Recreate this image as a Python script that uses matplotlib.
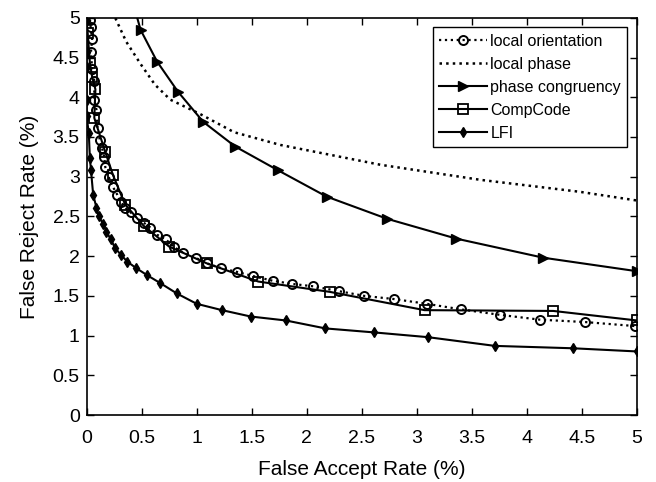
import matplotlib.pyplot as plt

plt.rcParams['font.family'] = ['Liberation Sans', 'DejaVu Sans']

# local orientation (dotted, circles)
lo_far = [0.03, 0.036, 0.05, 0.04, 0.05, 0.07, 0.07, 0.09, 0.10, 0.12, 0.14, 0.16, 0.17, 0.20,
          0.24, 0.28, 0.31, 0.35, 0.40, 0.46, 0.52, 0.58, 0.64, 0.72, 0.79, 0.88, 0.99,
          1.09, 1.22, 1.37, 1.51, 1.69, 1.87, 2.06, 2.29, 2.52, 2.79, 3.09, 3.40, 3.76,
          4.12, 4.53, 4.98]
lo_frr = [4.97, 4.89, 4.73, 4.57, 4.36, 4.21, 3.97, 3.84, 3.61, 3.46, 3.36, 3.25, 3.12, 3.00,
          2.87, 2.77, 2.68, 2.61, 2.55, 2.48, 2.42, 2.36, 2.27, 2.21, 2.12, 2.04, 1.98,
          1.91, 1.85, 1.80, 1.75, 1.69, 1.65, 1.62, 1.56, 1.50, 1.46, 1.40, 1.33, 1.26,
          1.20, 1.17, 1.12]

# local phase (dotted, no markers)
lp_far = [0.20, 0.26, 0.36, 0.49, 0.62, 0.76, 1.03, 1.34, 1.76, 2.67, 3.58, 4.48, 5.0]
lp_frr = [5.3, 5.0, 4.7, 4.42, 4.16, 3.97, 3.79, 3.56, 3.40, 3.15, 2.96, 2.81, 2.70]

# phase congruency (solid, right triangles)
pc_far = [0.40, 0.49, 0.64, 0.83, 1.06, 1.35, 1.74, 2.18, 2.73, 3.36, 4.15, 5.0]
pc_frr = [5.3, 4.85, 4.45, 4.07, 3.69, 3.38, 3.08, 2.75, 2.47, 2.22, 1.98, 1.81]

# CompCode (solid, squares)
cc_far = [0.01, 0.03, 0.05, 0.08, 0.07, 0.17, 0.24, 0.35, 0.52, 0.75, 1.09, 1.56,
          2.21, 3.07, 4.24, 5.0]
cc_frr = [4.81, 4.43, 4.26, 4.10, 3.74, 3.31, 3.02, 2.65, 2.38, 2.12, 1.91, 1.68,
          1.55, 1.32, 1.31, 1.19]

# LFI (solid, small diamonds)
lfi_far = [0.0, 0.0, 0.0, 0.0, 0.0, 0.02, 0.03, 0.04, 0.06, 0.09, 0.11, 0.15, 0.18,
           0.22, 0.26, 0.31, 0.37, 0.45, 0.55, 0.67, 0.82, 1.00, 1.23, 1.49, 1.81,
           2.17, 2.61, 3.10, 3.71, 4.42, 5.0]
lfi_frr = [4.97, 4.57, 4.38, 3.97, 3.76, 3.55, 3.23, 3.08, 2.77, 2.61, 2.50, 2.41, 2.31,
           2.21, 2.10, 2.02, 1.93, 1.85, 1.76, 1.66, 1.53, 1.40, 1.32, 1.24, 1.19,
           1.09, 1.04, 0.98, 0.87, 0.84, 0.80]

fig = plt.figure(figsize=(6.56, 4.82), dpi=100)
ax = fig.add_axes([0.132, 0.139, 0.839, 0.824])

ax.plot(lo_far, lo_frr, ':', color='k', lw=1.6, marker='o', ms=6.5, mfc='none',
        mew=1.4, label='local orientation')
ax.plot(lp_far, lp_frr, ':', color='k', lw=1.8, label='local phase')
ax.plot(pc_far, pc_frr, '-', color='k', lw=1.5, marker='>', ms=7, mfc='k',
        label='phase congruency')
ax.plot(cc_far, cc_frr, '-', color='k', lw=1.5, marker='s', ms=7, mfc='none',
        mew=1.3, label='CompCode')
ax.plot(lfi_far, lfi_frr, '-', color='k', lw=1.5, marker='d', ms=5, mfc='k',
        label='LFI')

ticks = [0, 0.5, 1, 1.5, 2, 2.5, 3, 3.5, 4, 4.5, 5]
tick_labels = ['0', '0.5', '1', '1.5', '2', '2.5', '3', '3.5', '4', '4.5', '5']
ax.set_xlim(0, 5)
ax.set_ylim(0, 5)
ax.set_xticks(ticks)
ax.set_xticklabels(tick_labels)
ax.set_yticks(ticks)
ax.set_yticklabels(tick_labels)
ax.tick_params(direction='in', top=True, right=True, labelsize=14, length=5, width=1)
ax.tick_params(axis='x', pad=11)
ax.tick_params(axis='y', pad=5)
for s in ax.spines.values():
    s.set_linewidth(1.2)

ax.set_xlabel('False Accept Rate (%)', fontsize=15, labelpad=9)
ax.set_ylabel('False Reject Rate (%)', fontsize=15, labelpad=10)

leg = ax.legend(loc='upper right', fontsize=11.5, fancybox=False, edgecolor='k',
                framealpha=1, borderpad=0.4, labelspacing=0.5, handlelength=3.0,
                handletextpad=0.2, borderaxespad=0.6)
leg.get_frame().set_linewidth(1.0)

fig.savefig('out.png', dpi=100)
